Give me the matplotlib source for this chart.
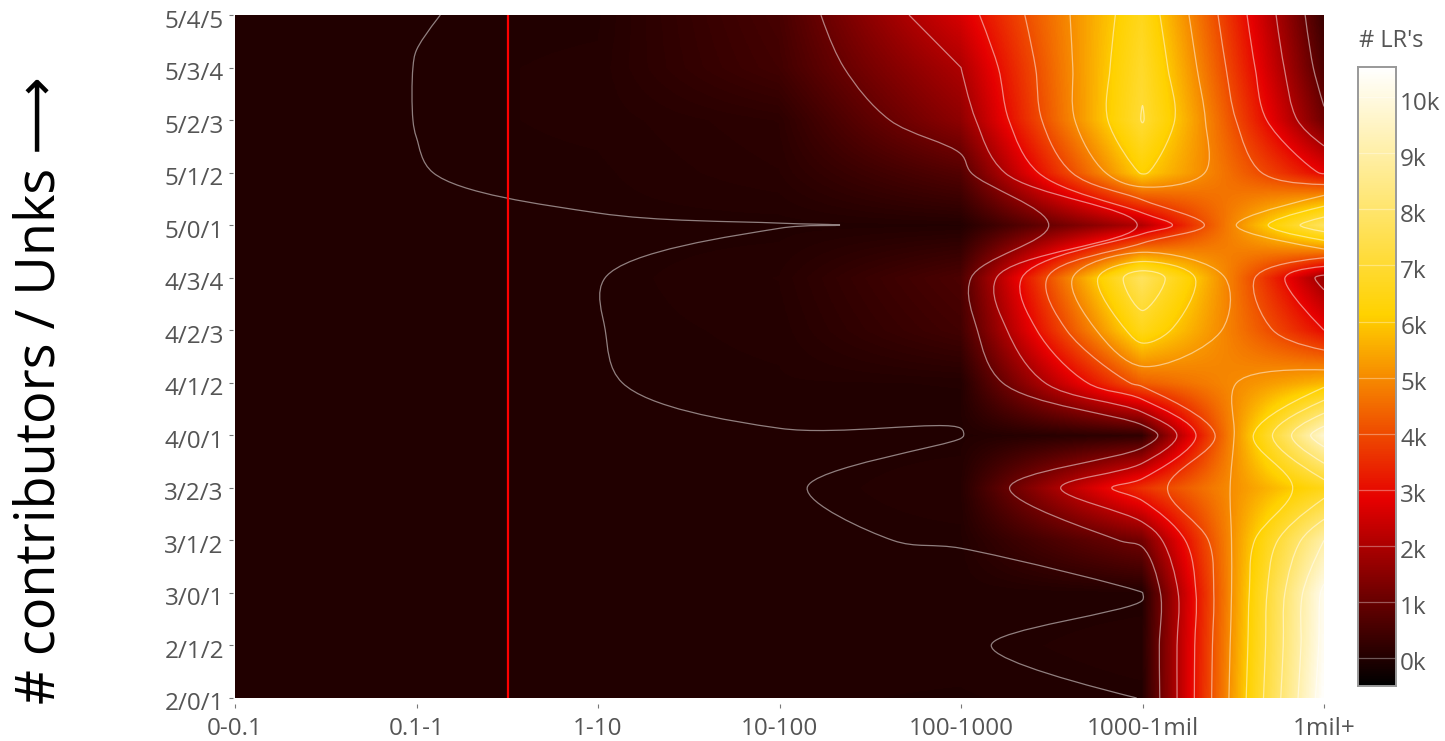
import numpy as np
import matplotlib
matplotlib.use("Agg")
import matplotlib.pyplot as plt
from matplotlib.colors import LinearSegmentedColormap, Normalize
from matplotlib.path import Path
from matplotlib.patches import PathPatch
from matplotlib.transforms import ScaledTranslation

x_labels = ["0-0.1", "0.1-1", "1-10", "10-100", "100-1000", "1000-1mil", "1mil+"]
y_labels = ["2/0/1", "2/1/2", "3/0/1", "3/1/2", "3/2/3", "4/0/1", "4/1/2",
            "4/2/3", "4/3/4", "5/0/1", "5/1/2", "5/2/3", "5/3/4", "5/4/5"]

# counts in thousands, one list per y label
row_2_0_1 = [-0.02, -0.02, -0.02, -0.02, -0.03, 0.001, 10.5]
row_2_1_2 = [-0.02, -0.02, -0.02, -0.015, -0.01, 0.05, 10.3]
row_3_0_1 = [-0.02, -0.02, -0.02, -0.02, -0.017, -0.008, 10.2]
row_3_1_2 = [-0.02, -0.02, -0.02, -0.005, 0.003, 1.15, 9.0]
row_3_2_3 = [-0.02, -0.02, -0.015, -0.009, 0.05, 3.6, 6.5]
row_4_0_1 = [-0.02, -0.015, -0.003, -0.0017, -0.003, 0.2, 9.7]
row_4_1_2 = [-0.02, -0.01, -0.0017, 0.011, 0.02, 4.3, 5.65]
row_4_2_3 = [-0.02, -0.01, -0.00125, 0.03, 0.45, 6.55, 3.0]
row_4_3_4 = [-0.02, -0.01, -0.0026, 0.063, 0.6, 7.75, 1.7]
row_5_0_1 = [-0.02, -0.01, -0.0024, -0.004, 0.008, 2.06, 7.75]
row_5_1_2 = [-0.01, -0.0008, 0.008, 0.1, 0.7, 6.1, 2.9]
row_5_2_3 = [-0.02, 0.0004, 0.03, 0.15, 1.55, 7.05, 1.13]
row_5_3_4 = [-0.02, 0.0004, 0.03, 0.45, 2.0, 6.87, 0.63]
row_5_4_5 = [-0.01, -0.0008, 0.0053, 0.53, 2.59, 6.6, 0.35]

z = np.array([row_2_0_1, row_2_1_2, row_3_0_1, row_3_1_2, row_3_2_3, row_4_0_1,
              row_4_1_2, row_4_2_3, row_4_3_4, row_5_0_1, row_5_1_2, row_5_2_3,
              row_5_3_4, row_5_4_5])

levels = list(range(0, 11))
z_min, z_max = -0.5, 10.54
cbar_ticks = list(range(0, 11))

W, H = 1445, 741
plt.rcParams["font.family"] = ["Open Sans", "DejaVu Sans"]
hot = LinearSegmentedColormap.from_list(
    "plotly_hot",
    [(0, (0, 0, 0)), (0.3, (230 / 255, 0, 0)), (0.6, (1, 210 / 255, 0)), (1, (1, 1, 1))],
)
norm = Normalize(z_min, z_max)


def px_axes(fig, left, top, right, bottom):
    return fig.add_axes([left / W, 1 - bottom / H, (right - left) / W, (bottom - top) / H])


def shift(artist, dx_px, dy_px):
    artist.set_transform(artist.get_transform() + ScaledTranslation(dx_px / 100, dy_px / 100, fig.dpi_scale_trans))


def tangent(prev, cur, nxt):
    d1 = prev - cur
    d2 = nxt - cur
    a1 = np.hypot(*d1) ** 0.5
    a2 = np.hypot(*d2) ** 0.5
    num = a2 * a2 * d1 - a1 * a1 * d2
    den1 = 3 * a2 * (a1 + a2)
    den2 = 3 * a1 * (a1 + a2)
    t1 = cur + (num / den1 if den1 else 0)
    t2 = cur - (num / den2 if den2 else 0)
    return t1, t2


def smooth_path(pts):
    # same spline plotly puts through the contour crossings
    closed = len(pts) > 3 and np.allclose(pts[0], pts[-1])
    if closed:
        pts = pts[:-1]
        n = len(pts)
        tans = [tangent(pts[i - 1], pts[i], pts[(i + 1) % n]) for i in range(n)]
        verts, codes = [pts[0]], [Path.MOVETO]
        for i in range(1, n + 1):
            verts += [tans[i - 1][1], tans[i % n][0], pts[i % n]]
            codes += [Path.CURVE4] * 3
        return Path(verts, codes)
    n = len(pts)
    if n < 3:
        return Path(pts)
    tans = [tangent(pts[i - 1], pts[i], pts[i + 1]) for i in range(1, n - 1)]
    verts, codes = [pts[0], tans[0][0], pts[1]], [Path.MOVETO, Path.CURVE3, Path.CURVE3]
    for i in range(2, n - 1):
        verts += [tans[i - 2][1], tans[i - 1][0], pts[i]]
        codes += [Path.CURVE4] * 3
    verts += [tans[-1][1], pts[-1]]
    codes += [Path.CURVE3, Path.CURVE3]
    return Path(verts, codes)


fig = plt.figure(figsize=(W / 100, H / 100), dpi=100)
ax = px_axes(fig, 235, 15, 1324, 698)
ax.imshow(z, origin="lower", extent=(-0.5, 6.5, -0.5, 13.5), aspect="auto", cmap=hot,
          norm=norm, interpolation="bilinear", interpolation_stage="data")

cs = ax.contour(np.arange(7), np.arange(14), z, levels=levels, linewidths=0)
scale = np.array([(1324 - 235) / 6, (698 - 15) / 13])
for path in cs.get_paths():
    if len(path.vertices) == 0:
        continue
    for poly in path.to_polygons(closed_only=False):
        sm = smooth_path(np.asarray(poly) * scale)
        sm = Path(np.asarray(sm.vertices) / scale, sm.codes)
        ax.add_patch(PathPatch(sm, fill=False, edgecolor=(1, 1, 1, 0.5), linewidth=0.9))
cs.remove()

ax.axvline(1.505, color="#ff0000", linewidth=1.6)
ax.set_xlim(0, 6)
ax.set_ylim(0, 13)
ax.set_xticks(range(7), x_labels)
ax.set_yticks(range(14), y_labels)
ax.tick_params(axis="both", labelsize=17.5, labelcolor="#555555", color="#777777",
               length=3, width=0.8)
ax.tick_params(axis="y", pad=5)
ax.tick_params(axis="x", pad=11)
for t in ax.xaxis.get_major_ticks():
    shift(t.tick1line, 0, -6)
for t in ax.yaxis.get_major_ticks():
    shift(t.tick1line, -2, 0)
    shift(t.label1, 0, -3.5)
for s in ax.spines.values():
    s.set_visible(False)

fig.text(40 / W, 1 - 390 / H, "# contributors / Unks \u27f6", rotation=90, ha="center",
         va="center", fontsize=39, color="black")

cax = px_axes(fig, 1358, 67, 1396, 686)
grad = np.linspace(z_min, z_max, 512).reshape(-1, 1)
cax.imshow(grad, origin="lower", extent=(0, 1, z_min, z_max), aspect="auto", cmap=hot, norm=norm)
for lv in levels:
    cax.axhline(lv, color=(1, 1, 1, 0.35), linewidth=0.9)
cax.set_xticks([])
cax.yaxis.tick_right()
cax.set_yticks(cbar_ticks, [f"{k}k" for k in cbar_ticks])
cax.tick_params(axis="y", labelsize=17.5, labelcolor="#555555", length=0, pad=3)
for t in cax.yaxis.get_major_ticks():
    shift(t.label2, 0, -3.5)
for s in cax.spines.values():
    s.set_color("#999999")
    s.set_linewidth(1.4)
fig.text(1391 / W, 1 - 41 / H, "# LR's", ha="center", va="center", fontsize=17, color="#555555")

fig.savefig("out.png", dpi=100)
